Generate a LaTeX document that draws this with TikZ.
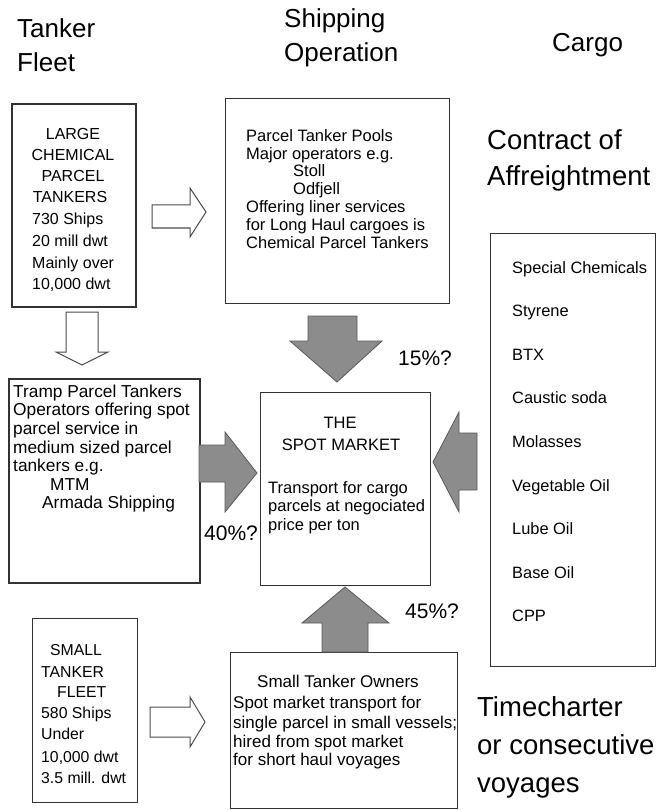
\documentclass[tikz,border=0pt]{standalone}
\usepackage{fontspec}
\setmainfont{Liberation Sans}
\newcommand\myfs[2]{\fontsize{#1}{#2}\selectfont}
\begin{document}
\begin{tikzpicture}[x=1pt,y=-1pt,
  box/.style={draw=black!80, line width=1pt, inner sep=0, anchor=north west, fill=white},
  thickbox/.style={box, line width=1.8pt},
  tl/.style={inner sep=0, anchor=base west},
  tc/.style={inner sep=0, anchor=base},
  ttl/.style={tl, font=\myfs{26}{26}},
  ttr/.style={tl, font=\myfs{27.5}{27.5}},
  pct/.style={tl, font=\myfs{21}{21}},
  garrow/.style={fill=black!45, draw=black!65, line width=0.8pt, line join=miter},
  harrow/.style={fill=white, draw=black!70, line width=1pt, line join=miter}]
\useasboundingbox[fill=white] (0,0) rectangle (657,810);

% titles
\node[ttl] (t1) at (17,38) {Tanker};
\node[ttl] (t2) at (17,72) {Fleet};
\node[ttl] (t3) at (284,28) {Shipping};
\node[ttl] (t4) at (284,62) {Operation};
\node[ttl] (t5) at (552,52) {Cargo};
\node[ttr] (t6) at (487,150) {Contract of};
\node[ttr] (t7) at (487,186) {Affreightment};
\node[ttr] (t8) at (477,716) {Timecharter};
\node[ttr] (t9) at (477,754) {or consecutive};
\node[ttr] (t10) at (477,792) {voyages};

% boxes
\node[thickbox, minimum width=124pt, minimum height=203pt] (large) at (11,103) {};
\node[box, minimum width=224pt, minimum height=205pt] (pools) at (225,98) {};
\node[thickbox, minimum width=191pt, minimum height=204pt] (tramp) at (8,378) {};
\node[box, minimum width=170pt, minimum height=193pt] (spot) at (260,392) {};
\node[box, minimum width=165pt, minimum height=433pt] (cargo) at (490,233) {};
\node[box, minimum width=105pt, minimum height=184pt] (small) at (32,618) {};
\node[box, minimum width=227pt, minimum height=156pt] (owners) at (230,652) {};

% large box text
\begin{scope}[every node/.append style={font=\myfs{16}{16}}]
\node[tc] (la1) at (73,140) {LARGE};
\node[tc] (la2) at (73,161) {CHEMICAL};
\node[tc] (la3) at (73,182) {PARCEL};
\node[tc] (la4) at (70,203) {TANKERS};
\node[tl] (la5) at (32,225) {730 Ships};
\node[tl] (la6) at (32,247) {20 mill dwt};
\node[tl] (la7) at (32,268) {Mainly over};
\node[tl] (la8) at (32,289) {10,000 dwt};
\end{scope}

% pools text
\begin{scope}[every node/.append style={font=\myfs{16.5}{16.5}}]
\node[tl] (po1) at (246,142) {Parcel Tanker Pools};
\node[tl] (po2) at (246,160) {Major operators e.g.};
\node[tl] (po3) at (293,177) {Stoll};
\node[tl] (po4) at (293,195) {Odfjell};
\node[tl] (po5) at (246,213) {Offering liner services};
\node[tl] (po6) at (246,230) {for Long Haul cargoes is};
\node[tl] (po7) at (246,248) {Chemical Parcel Tankers};
\end{scope}

% tramp text
\begin{scope}[every node/.append style={font=\myfs{17.3}{17.3}}]
\node[tl] (tr1) at (13,397) {Tramp Parcel Tankers};
\node[tl] (tr2) at (13,415) {Operators offering spot};
\node[tl] (tr3) at (13,434) {parcel service in};
\node[tl] (tr4) at (13,453) {medium sized parcel};
\node[tl] (tr5) at (13,471) {tankers e.g.};
\node[tl] (tr6) at (50,490) {MTM};
\node[tl] (tr7) at (42,508) {Armada Shipping};
\end{scope}

% spot text
\begin{scope}[every node/.append style={font=\myfs{16.5}{16.5}}]
\node[tc] (sp1) at (340,428) {THE};
\node[tc] (sp2) at (341,450) {SPOT MARKET};
\node[tl] (sp3) at (268,493) {Transport for cargo};
\node[tl] (sp4) at (268,511) {parcels at negociated};
\node[tl] (sp5) at (268,530) {price per ton};
\end{scope}

% cargo list
\begin{scope}[every node/.append style={font=\myfs{16.4}{16.4}}]
\foreach \txt [count=\i] in {Special Chemicals,Styrene,BTX,Caustic soda,Molasses,Vegetable Oil,Lube Oil,Base Oil,CPP}
  \node[tl] (cg\i) at (512,{273+43.6*(\i-1)}) {\txt};
\end{scope}

% small tanker fleet text
\begin{scope}[every node/.append style={font=\myfs{15.8}{15.8}}]
\node[tl] (sm1) at (50,655) {SMALL};
\node[tl] (sm2) at (41,677) {TANKER};
\node[tl] (sm3) at (57,697) {FLEET};
\node[tl] (sm4) at (41,718) {580 Ships};
\node[tl] (sm5) at (41,739) {Under};
\node[tl] (sm6) at (41,762) {10,000 dwt};
\node[tl] (sm7) at (41,783) {3.5 mill. dwt};
\end{scope}

% owners text
\begin{scope}[every node/.append style={font=\myfs{17}{17}}]
\node[tl] (ow1) at (257,687) {Small Tanker Owners};
\node[tl] (ow2) at (233,708) {Spot market transport for};
\node[tl] (ow3) at (233,728) {single parcel in small vessels;};
\node[tl] (ow4) at (233,747) {hired from spot market};
\node[tl] (ow5) at (233,765) {for short haul voyages};
\end{scope}

% percentages
\node[pct] (p15) at (398,365) {15\%?};
\node[pct] (p40) at (204,540) {40\%?};
\node[pct] (p45) at (405,618) {45\%?};

% hollow arrows
\draw[harrow] (152,205) -- (190,205) -- (190,188) -- (206,212) -- (190,237) -- (190,228) -- (152,228) -- cycle;
\draw[harrow] (66,312) -- (98,312) -- (98,352) -- (108,352) -- (82,365) -- (56,352) -- (66,352) -- cycle;
\draw[harrow] (150,707) -- (190,707) -- (190,697) -- (205,722) -- (190,747) -- (190,737) -- (150,737) -- cycle;

% grey block arrows
\draw[garrow] (308,316) -- (357,316) -- (357,341) -- (382,341) -- (337,382) -- (290,341) -- (308,341) -- cycle;
\draw[garrow] (199,445) -- (225,445) -- (225,432) -- (257,473) -- (225,512) -- (225,482) -- (199,482) -- cycle;
\draw[garrow] (477,433) -- (459,433) -- (459,412) -- (433,462) -- (459,512) -- (459,490) -- (477,490) -- cycle;
\draw[garrow] (322,652) -- (322,623) -- (302,623) -- (345,587) -- (389,623) -- (368,623) -- (368,652) -- cycle;
\end{tikzpicture}
\end{document}
